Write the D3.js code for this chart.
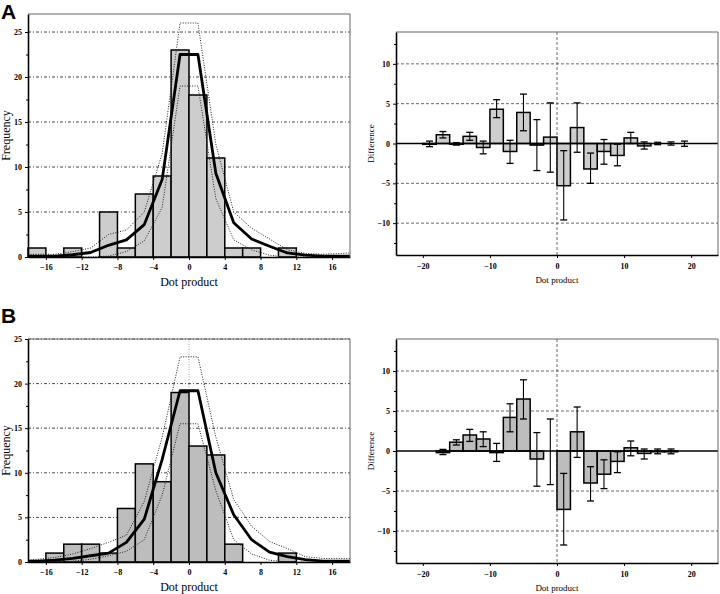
<!DOCTYPE html>
<html>
<meta charset="utf-8">
<script src="https://cdn.jsdelivr.net/npm/d3@7"></script>
<style>
  body { margin: 0; background: #fff; }
  text { font-family: "Liberation Serif", "DejaVu Serif", serif; }
</style>
<body>
<div id="chart"></div>
<script>

// histogram bins (left edge), width 2
var binStart = [-18,-16,-14,-12,-10,-8,-6,-4,-2,0,2,4,6,8,10,12,14,16];
var freqA = [1,0,1,0,5,1,7,9,23,18,11,1,1,0,1,0,0,0];
var freqB = [0,1,2,2,1,6,11,9,19,13,12,2,0,0,1,0,0,0];

// smoothed curves, points at bin centres
var curveX = [-18,-17,-15,-13,-11,-9,-7,-5,-3,-1,1,3,5,7,9,11,13,15,17,18];
var meanA  = [0.1,0.1,0.1,0.25,0.5,1.3,1.9,3.6,8.6,22.5,22.5,9.3,3.8,2.0,1.2,0.45,0.2,0.1,0.1,0.1];
var upperA = [0.3,0.3,0.3,0.6,1.0,2.5,3.0,5.0,11.5,26,26,12.5,5.0,3.2,2.0,0.8,0.4,0.3,0.4,0.45];
var lowerA = [0,0,0,0,0,0.1,0.6,1.8,5.5,19,19,6.5,1.9,0.8,0.2,0,0,0,0,0];
var meanB  = [0.1,0.1,0.2,0.4,0.7,1.0,2.2,4.8,11.5,19.2,19.2,10,5.3,2.5,1.1,0.6,0.26,0.1,0.1,0.1];
var upperB = [0.2,0.3,0.5,0.9,1.5,2.2,3.0,6.8,14,23,23,14,7,4,2.3,1.5,0.6,0.4,0.4,0.4];
var lowerB = [0,0,0,0.1,0.3,0.7,1.2,2.5,7.5,15.5,15.5,8,2.5,0.9,0.2,0,0,0,0,0];

// difference plots: bin left edge, value, error low, error high
var diffStartA = [-20,-18,-16,-14,-12,-10,-8,-6,-4,-2,0,2,4,6,8,10,12,14,16,18];
var diffA   = [-0.1,1.1,-0.1,0.9,-0.5,4.3,-1.0,3.9,-0.2,0.8,-5.3,2.0,-3.2,-1.0,-1.5,0.7,-0.3,0,0,0];
var errLoA  = [-0.4,0.7,-0.2,0.4,-1.3,3.25,-2.5,1.6,-3.4,-3.6,-9.6,-1.1,-5.0,-2.6,-2.8,0,-0.7,-0.15,-0.2,-0.35];
var errHiA  = [0.3,1.5,0.1,1.4,0.3,5.5,0.4,6.2,3.0,5.1,-0.9,5.1,-1.2,0.5,-0.1,1.4,0.2,0.15,0.2,0.3];

var diffStartB = [-18,-16,-14,-12,-10,-8,-6,-4,-2,0,2,4,6,8,10,12,14,16];
var diffB   = [-0.2,1.1,2.0,1.5,-0.2,4.2,6.5,-1.0,0,-7.3,2.4,-4.0,-2.9,-1.3,0.4,-0.3,-0.1,-0.1];
var errLoB  = [-0.45,0.75,1.2,0.55,-1.3,2.4,4.0,-4.4,-4.2,-11.75,-0.8,-6.25,-4.7,-2.7,-0.6,-1.0,-0.35,-0.35];
var errHiB  = [0.2,1.4,2.7,2.4,0.95,5.9,8.9,2.3,4.0,-2.8,5.5,-1.96,-1.1,-0.1,1.25,0.25,0.25,0.25];

var histTicks = [-16,-12,-8,-4,0,4,8,12,16];
var freqTicks = [0,5,10,15,20,25];
var diffXTicks = [-20,-10,0,10,20];
var diffYTicks = [-10,-5,0,5,10];

var svg = d3.select("#chart").append("svg")
  .attr("width", 720).attr("height", 594);

function histPanel(top, bottom, yMax, freq, mean, upper, lower, fill, showZero) {
  var x = d3.scaleLinear().domain([-18, 18]).range([28, 350]);
  var y = d3.scaleLinear().domain([0, yMax]).range([bottom, top]);
  var g = svg.append("g");

  // grid lines behind bars
  g.selectAll(".grid").data(freqTicks.filter(function(d){ return d > 0 && d <= yMax; }))
    .enter().append("line")
      .attr("x1", x(-18)).attr("x2", x(18))
      .attr("y1", function(d){ return y(d); }).attr("y2", function(d){ return y(d); })
      .attr("stroke", "#333").attr("stroke-width", 0.9)
      .attr("stroke-dasharray", "3,2,1,2");

  if (showZero) {
    g.append("line")
      .attr("x1", x(0)).attr("x2", x(0)).attr("y1", y(yMax)).attr("y2", y(0))
      .attr("stroke", "#888").attr("stroke-width", 0.8).attr("stroke-dasharray", "1,1.5");
  }

  var bins = binStart.map(function(d, i){ return {x0: d, n: freq[i]}; })
    .filter(function(d){ return d.n > 0; });
  g.selectAll(".bar").data(bins).enter().append("rect")
    .attr("x", function(d){ return x(d.x0); })
    .attr("width", function(d){ return x(d.x0 + 2) - x(d.x0); })
    .attr("y", function(d){ return y(d.n); })
    .attr("height", function(d){ return y(0) - y(d.n); })
    .attr("fill", fill).attr("stroke", "#000").attr("stroke-width", 1.5);

  var line = function(vals) {
    return d3.line()
      .x(function(d){ return x(d); })
      .y(function(d, i){ return y(vals[i]); })(curveX);
  };
  [upper, lower].forEach(function(v) {
    g.append("path").attr("d", line(v)).attr("fill", "none")
      .attr("stroke", "#222").attr("stroke-width", 1).attr("stroke-dasharray", "1,1.5");
  });
  g.append("path").attr("d", line(mean)).attr("fill", "none")
    .attr("stroke", "#000").attr("stroke-width", 2.8).attr("stroke-linejoin", "round");

  // frame
  g.append("line").attr("x1", x(-18)).attr("x2", x(18)).attr("y1", top).attr("y2", top)
    .attr("stroke", "#666").attr("stroke-width", 1);
  g.append("line").attr("x1", x(18)).attr("x2", x(18)).attr("y1", top).attr("y2", bottom)
    .attr("stroke", "#666").attr("stroke-width", 1);

  var yAxis = g.append("g").attr("transform", "translate(" + x(-18) + ",0)")
    .call(d3.axisLeft(y).tickValues(freqTicks.filter(function(d){ return d <= yMax; }))
      .tickSize(3).tickSizeOuter(0).tickPadding(3));
  g.append("g").attr("transform", "translate(" + x(-18) + ",0)")
    .call(d3.axisLeft(y).tickValues([2.5,7.5,12.5,17.5,22.5]).tickSize(2).tickFormat(""))
    .select(".domain").remove();
  var xAxis = g.append("g").attr("transform", "translate(0," + bottom + ")")
    .call(d3.axisBottom(x).tickValues(histTicks).tickSize(3).tickSizeOuter(0).tickPadding(4));
  [yAxis, xAxis].forEach(function(a) {
    a.select(".domain").attr("stroke-width", 1.6);
    a.selectAll("text").style("font-family", "Liberation Serif, serif")
      .style("font-weight", "bold").style("font-size", "8px");
  });

  g.append("text").attr("x", 189).attr("y", bottom + 29).attr("text-anchor", "middle")
    .style("font-size", "12px").text("Dot product");
  g.append("text").attr("transform", "translate(10," + ((top + bottom) / 2) + ") rotate(-90)")
    .attr("text-anchor", "middle").style("font-size", "12px").text("Frequency");
}

function diffPanel(top, bottom, starts, vals, lo, hi, fill) {
  var x = d3.scaleLinear().domain([-24, 24]).range([396, 718]);
  var y = d3.scaleLinear().domain([-14, 14]).range([bottom, top]);
  var g = svg.append("g");

  g.selectAll(".grid").data([-10,-5,5,10]).enter().append("line")
    .attr("x1", x(-24)).attr("x2", x(24))
    .attr("y1", function(d){ return y(d); }).attr("y2", function(d){ return y(d); })
    .attr("stroke", "#444").attr("stroke-width", 0.8).attr("stroke-dasharray", "3,2");
  g.append("line").attr("x1", x(0)).attr("x2", x(0)).attr("y1", top).attr("y2", bottom)
    .attr("stroke", "#444").attr("stroke-width", 0.8).attr("stroke-dasharray", "3,2");

  g.selectAll(".bar").data(starts).enter().append("rect")
    .attr("x", function(d){ return x(d); })
    .attr("width", function(d){ return x(d + 2) - x(d); })
    .attr("y", function(d, i){ return y(Math.max(0, vals[i])); })
    .attr("height", function(d, i){ return Math.abs(y(0) - y(vals[i])); })
    .attr("fill", fill).attr("stroke", "#000").attr("stroke-width", 1.5);

  g.append("line").attr("x1", x(-24)).attr("x2", x(24)).attr("y1", y(0)).attr("y2", y(0))
    .attr("stroke", "#000").attr("stroke-width", 1.6);

  var eb = g.selectAll(".err").data(starts).enter().append("g")
    .attr("transform", function(d){ return "translate(" + x(d + 1) + ",0)"; });
  eb.append("line").attr("y1", function(d, i){ return y(lo[i]); })
    .attr("y2", function(d, i){ return y(hi[i]); }).attr("stroke", "#000").attr("stroke-width", 1.1);
  eb.append("line").attr("x1", -3.5).attr("x2", 3.5)
    .attr("y1", function(d, i){ return y(lo[i]); }).attr("y2", function(d, i){ return y(lo[i]); })
    .attr("stroke", "#000").attr("stroke-width", 1.3);
  eb.append("line").attr("x1", -3.5).attr("x2", 3.5)
    .attr("y1", function(d, i){ return y(hi[i]); }).attr("y2", function(d, i){ return y(hi[i]); })
    .attr("stroke", "#000").attr("stroke-width", 1.3);

  g.append("line").attr("x1", x(-24)).attr("x2", x(24)).attr("y1", top).attr("y2", top)
    .attr("stroke", "#666").attr("stroke-width", 1);
  g.append("line").attr("x1", x(24)).attr("x2", x(24)).attr("y1", top).attr("y2", bottom)
    .attr("stroke", "#666").attr("stroke-width", 1);

  var yAxis = g.append("g").attr("transform", "translate(" + x(-24) + ",0)")
    .call(d3.axisLeft(y).tickValues(diffYTicks).tickSize(3).tickSizeOuter(0).tickPadding(3));
  g.append("g").attr("transform", "translate(" + x(-24) + ",0)")
    .call(d3.axisLeft(y).tickValues([-12.5,-7.5,-2.5,2.5,7.5,12.5]).tickSize(2).tickFormat(""))
    .select(".domain").remove();
  var xAxis = g.append("g").attr("transform", "translate(0," + bottom + ")")
    .call(d3.axisBottom(x).tickValues(diffXTicks).tickSize(3).tickSizeOuter(0).tickPadding(5));
  [yAxis, xAxis].forEach(function(a) {
    a.select(".domain").attr("stroke-width", 1.6);
    a.selectAll("text").style("font-family", "Liberation Serif, serif")
      .style("font-weight", "bold").style("font-size", "8px");
  });

  g.append("text").attr("x", x(0)).attr("y", bottom + 28).attr("text-anchor", "middle")
    .style("font-size", "9px").text("Dot product");
  g.append("text").attr("transform", "translate(374," + ((top + bottom) / 2) + ") rotate(-90)")
    .attr("text-anchor", "middle").style("font-size", "9px").text("Difference");
}

histPanel(14, 257, 27, freqA, meanA, upperA, lowerA, "#cdcdcd", false);
histPanel(339, 562, 25, freqB, meanB, upperB, lowerB, "#bdbdbd", true);
diffPanel(32, 255, diffStartA, diffA, errLoA, errHiA, "#cdcdcd");
diffPanel(339, 563, diffStartB, diffB, errLoB, errHiB, "#bdbdbd");

svg.append("text").attr("x", 1).attr("y", 19).style("font-family", "Liberation Sans, Arial, sans-serif")
  .style("font-weight", "bold").style("font-size", "21px").text("A");
svg.append("text").attr("x", 1).attr("y", 323).style("font-family", "Liberation Sans, Arial, sans-serif")
  .style("font-weight", "bold").style("font-size", "21px").text("B");

</script>
</body>
</html>
